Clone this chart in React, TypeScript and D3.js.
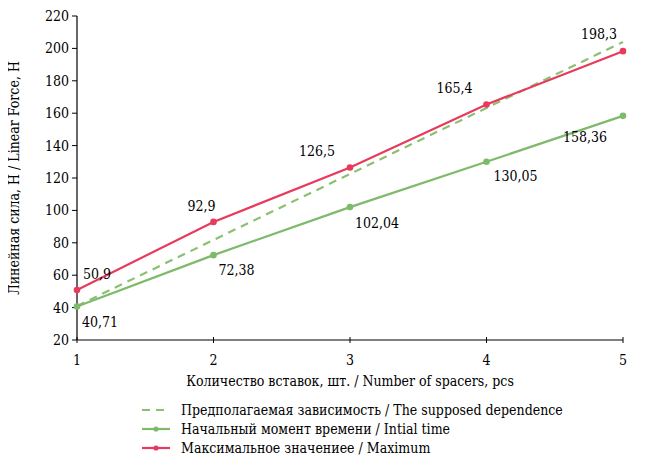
import * as d3 from 'd3';
import React from 'react';

// 데이터
const spacers = [1, 2, 3, 4, 5];
const initialTime = [40.71, 72.38, 102.04, 130.05, 158.36];
const maximum = [50.9, 92.9, 126.5, 165.4, 198.3];
const initialLabels = ['40,71', '72,38', '102,04', '130,05', '158,36'];
const maximumLabels = ['50,9', '92,9', '126,5', '165,4', '198,3'];
// 예상 의존성 (점선) 끝점
const supposedX = [1, 5];
const supposedY = [41, 204];
const yTicks = [20, 40, 60, 80, 100, 120, 140, 160, 180, 200, 220];

const legendItems = [
    { label: 'Предполагаемая зависимость / The supposed dependence', color: '#8cc070', dashed: true, dot: false },
    { label: 'Начальный момент времени / Intial time', color: '#7dba6a', dashed: false, dot: true },
    { label: 'Максимальное значениее / Maximum', color: '#e83a5c', dashed: false, dot: true },
];

const RED = '#e83a5c';
const GREEN = '#7dba6a';
const FONT = 'DejaVu Serif Condensed, DejaVu Serif';
const FS = 14;

const App: React.FC = () => {
    const width = 658;
    const height = 460;
    const marginLeft = 77;
    const marginRight = 35;
    const marginTop = 16;
    const plotBottom = 340;

    const x = d3.scaleLinear().domain([1, 5]).range([marginLeft, width - marginRight]);
    const y = d3.scaleLinear().domain([20, 220]).range([plotBottom, marginTop]);

    const line = d3
        .line<[number, number]>()
        .x((d) => x(d[0]))
        .y((d) => y(d[1]));

    const greenPts = spacers.map((s, i) => [s, initialTime[i]] as [number, number]);
    const redPts = spacers.map((s, i) => [s, maximum[i]] as [number, number]);
    const dashPts = supposedX.map((s, i) => [s, supposedY[i]] as [number, number]);

    // 라벨 오프셋 (dx, dy, anchor)
    const redOffsets: [number, number, string][] = [
        [6, -11, 'start'],
        [2, -11, 'end'],
        [-15, -11, 'end'],
        [-14, -11, 'end'],
        [-6, -12, 'end'],
    ];
    const greenOffsets: [number, number, string][] = [
        [5, 21, 'start'],
        [5, 20, 'start'],
        [5, 21, 'start'],
        [7, 19, 'start'],
        [-16, 26, 'end'],
    ];

    return (
        <svg width={width} height={height} style={{ display: 'block', margin: '-8px 0 0 -8px' }}>
            <rect width={width} height={height} fill="#fff" />
            {/* Y axis */}
            <line x1={marginLeft} x2={marginLeft} y1={y(220)} y2={y(20)} stroke="#000" strokeWidth={1.2} />
            {yTicks.map((t) => (
                <g key={t} transform={`translate(0,${y(t)})`}>
                    <line x1={marginLeft - 5} x2={marginLeft} stroke="#000" />
                    <text x={marginLeft - 8} dy="0.35em" textAnchor="end" fontSize={FS} fontFamily={FONT}>
                        {t}
                    </text>
                </g>
            ))}
            {/* X axis */}
            <line x1={x(1)} x2={x(5)} y1={plotBottom} y2={plotBottom} stroke="#000" strokeWidth={1.2} />
            {spacers.map((s) => (
                <g key={s} transform={`translate(${x(s)},${plotBottom})`}>
                    <line y1={-3} y2={3} stroke="#000" />
                    <text y={25} textAnchor="middle" fontSize={FS} fontFamily={FONT}>
                        {s}
                    </text>
                </g>
            ))}
            <text x={(x(1) + x(5)) / 2} y={386} textAnchor="middle" fontSize={FS} fontFamily={FONT}>
                Количество вставок, шт. / Number of spacers, pcs
            </text>
            <text
                transform={`translate(19,${(y(220) + y(20)) / 2}) rotate(-90)`}
                textAnchor="middle"
                fontSize={FS}
                fontFamily={FONT}
            >
                Линейная сила, Н / Linear Force, Н
            </text>

            {/* series */}
            <path d={line(dashPts) ?? ''} fill="none" stroke="#8cc070" strokeWidth={2.2} strokeDasharray="8,6" />
            <path d={line(greenPts) ?? ''} fill="none" stroke={GREEN} strokeWidth={2.2} />
            <path d={line(redPts) ?? ''} fill="none" stroke={RED} strokeWidth={2.2} />
            {greenPts.map((p, i) => (
                <circle key={`g${i}`} cx={x(p[0])} cy={y(p[1])} r={3.3} fill={GREEN} />
            ))}
            {redPts.map((p, i) => (
                <circle key={`r${i}`} cx={x(p[0])} cy={y(p[1])} r={3.3} fill={RED} />
            ))}

            {/* data labels */}
            {redPts.map((p, i) => (
                <text
                    key={`rl${i}`}
                    x={x(p[0]) + redOffsets[i][0]}
                    y={y(p[1]) + redOffsets[i][1]}
                    textAnchor={redOffsets[i][2]}
                    fontSize={FS}
                    fontFamily={FONT}
                >
                    {maximumLabels[i]}
                </text>
            ))}
            {greenPts.map((p, i) => (
                <text
                    key={`gl${i}`}
                    x={x(p[0]) + greenOffsets[i][0]}
                    y={y(p[1]) + greenOffsets[i][1]}
                    textAnchor={greenOffsets[i][2]}
                    fontSize={FS}
                    fontFamily={FONT}
                >
                    {initialLabels[i]}
                </text>
            ))}

            {/* legend */}
            {legendItems.map((item, i) => {
                const ly = 410 + i * 19;
                return (
                    <g key={i}>
                        <line
                            x1={142}
                            x2={170}
                            y1={ly}
                            y2={ly}
                            stroke={item.color}
                            strokeWidth={2.2}
                            strokeDasharray={item.dashed ? '8,6' : undefined}
                        />
                        {item.dot && <circle cx={156} cy={ly} r={2.6} fill={item.color} />}
                        <text x={181} y={ly} dy="0.35em" fontSize={FS} fontFamily={FONT}>
                            {item.label}
                        </text>
                    </g>
                );
            })}
        </svg>
    );
};

export default App;
